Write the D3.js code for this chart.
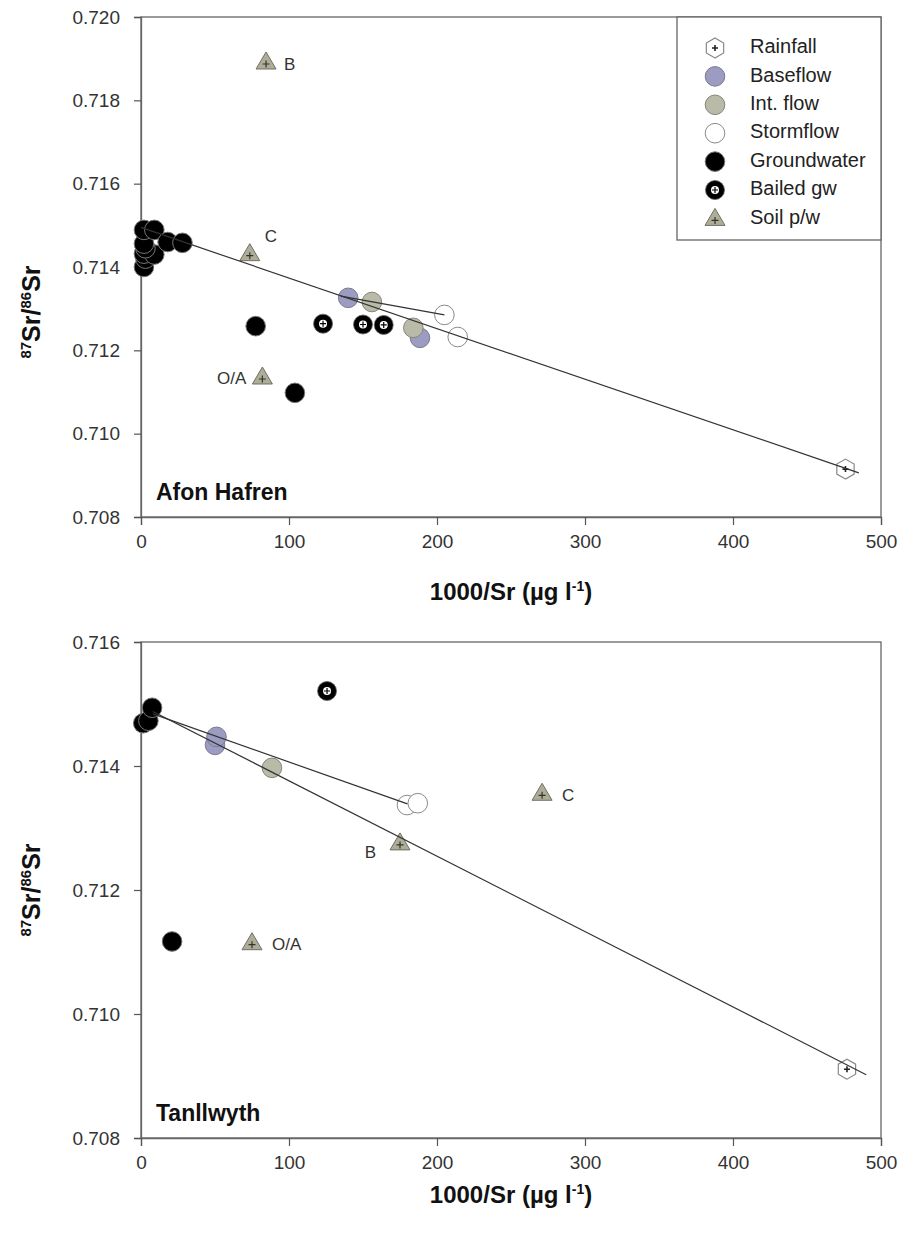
<!DOCTYPE html>
<html>
<head>
<meta charset="utf-8">
<script src="https://cdn.jsdelivr.net/npm/d3@7"></script>
<style>
  html, body { margin: 0; padding: 0; background: #fff; }
  svg { display: block; }
  text { font-family: "Liberation Sans", Arial, sans-serif; }
</style>
</head>
<body>
<script>
// ---- Axis ticks --------------------------------------------------------
const xTicks = [0, 100, 200, 300, 400, 500];
const yTicksHafren = [0.708, 0.710, 0.712, 0.714, 0.716, 0.718, 0.720];
const yTicksTanllwyth = [0.708, 0.710, 0.712, 0.714, 0.716];

// ---- Legend -------------------------------------------------------------
const legendKeys = ["rain", "base", "inter", "storm", "gw", "bailed", "soil"];
const legendLabels = ["Rainfall", "Baseflow", "Int. flow", "Stormflow", "Groundwater", "Bailed gw", "Soil p/w"];

// ---- Afon Hafren: [1000/Sr, 87Sr/86Sr] ---------------------------------
const hafRainfall = [[476, 0.70915]];
const hafBaseflow = [[140, 0.71326], [188.5, 0.71230]];
const hafIntflow = [[156, 0.71316], [184, 0.71254]];
const hafStormflow = [[205, 0.71285], [214, 0.71232]];
const hafGroundwater = [[2, 0.71400], [3, 0.71420], [2, 0.71432], [9, 0.71430], [3, 0.71445],
  [2, 0.71456], [2, 0.71489], [9, 0.71489], [18, 0.71460], [28, 0.71458],
  [77.5, 0.71258], [104, 0.71098]];
const hafBailed = [[123, 0.71264], [150, 0.71262], [164, 0.71261]];
const hafSoil = [[84.5, 0.71892], [73.5, 0.71432], [82, 0.71136]];
const hafSoilNames = ["B", "C", "O/A"];
// mixing lines
const hafLineRain = [[0, 0.71495], [485, 0.70906]];
const hafLineStorm = [[135, 0.71330], [205, 0.71285]];

// ---- Tanllwyth ---------------------------------------------------------
const tanRainfall = [[477, 0.70911]];
const tanBaseflow = [[50, 0.71434], [51, 0.71447]];
const tanIntflow = [[88.5, 0.71397]];
const tanStormflow = [[179.7, 0.71337], [187, 0.71340]];
const tanGroundwater = [[1.5, 0.71469], [5, 0.71473], [7.5, 0.71494], [21, 0.71117]];
const tanBailed = [[125.7, 0.71521]];
const tanSoil = [[271, 0.71356], [175, 0.71276], [75, 0.71115]];
const tanSoilNames = ["C", "B", "O/A"];
const tanLineRain = [[8, 0.71488], [490, 0.70902]];
const tanLineStorm = [[8, 0.71484], [180, 0.71339]];

// ---- Styles ------------------------------------------------------------
const W = 904, H = 1234;
const svg = d3.select("body").append("svg").attr("width", W).attr("height", H);

const markerStyle = {
  base:  { fill: "#9c9cc2", stroke: "#7a7a90" },
  inter: { fill: "#babaa8", stroke: "#85857a" },
  storm: { fill: "#ffffff", stroke: "#8a8a8a" },
  gw:    { fill: "#000000", stroke: "#777777" }
};

function drawMarker(g, kind, cx, cy) {
  const m = g.append("g").attr("transform", `translate(${cx},${cy})`);
  if (kind === "rain") {
    const r = 10;
    const pts = d3.range(6).map(i => {
      const a = Math.PI / 2 + i * Math.PI / 3;
      return [r * Math.cos(a), r * Math.sin(a)];
    });
    m.append("path").attr("d", "M" + pts.join("L") + "Z")
      .attr("fill", "#fff").attr("stroke", "#888").attr("stroke-width", 1.2);
    m.append("path").attr("d", "M-3,0H3M0,-3V3").attr("stroke", "#222").attr("stroke-width", 1.6);
  } else if (kind === "bailed") {
    m.append("circle").attr("r", 9.5).attr("fill", "#000").attr("stroke", "#666").attr("stroke-width", 0.8);
    m.append("circle").attr("r", 4).attr("fill", "#fff");
    m.append("path").attr("d", "M-3,0H3M0,-3V3").attr("stroke", "#000").attr("stroke-width", 1.2);
  } else if (kind === "soil") {
    m.append("path").attr("d", "M0,-10L10,7L-10,7Z")
      .attr("fill", "#aeae98").attr("stroke", "#6f6f66").attr("stroke-width", 1);
    m.append("path").attr("d", "M-3.5,2H3.5M0,-1.5V5.5").attr("stroke", "#333").attr("stroke-width", 1.2);
  } else {
    const s = markerStyle[kind];
    m.append("circle").attr("r", 9.8).attr("fill", s.fill)
      .attr("stroke", s.stroke).attr("stroke-width", 1);
  }
}

function drawPanel(opt) {
  const x = d3.scaleLinear().domain([0, 500]).range([141, 881]);
  const y = d3.scaleLinear().domain(opt.yDomain).range([opt.bottom, opt.top]);
  const g = svg.append("g");

  // frame
  g.append("rect").attr("x", x(0)).attr("y", opt.top)
    .attr("width", x(500) - x(0)).attr("height", opt.bottom - opt.top)
    .attr("fill", "none").attr("stroke", "#666").attr("stroke-width", 1.3);

  const yAxis = d3.axisLeft(y).tickValues(opt.yTicks).tickFormat(d3.format(".3f"))
    .tickSize(7).tickPadding(14);
  const xAxis = d3.axisBottom(x).tickValues(xTicks).tickFormat(d3.format("d"))
    .tickSize(8).tickPadding(10);

  const ya = g.append("g").attr("transform", `translate(${x(0)},0)`).call(yAxis);
  const xa = g.append("g").attr("transform", `translate(0,${opt.bottom})`).call(xAxis);
  [ya, xa].forEach(a => {
    a.select(".domain").attr("stroke", "#666").attr("stroke-width", 1.3);
    a.selectAll(".tick line").attr("stroke", "#555").attr("stroke-width", 1.2);
    a.selectAll(".tick text").attr("fill", "#333").style("font-size", "19px")
      .style("font-family", "'Liberation Sans', Arial, sans-serif");
  });

  // markers
  const groups = [
    ["gw", opt.gw], ["bailed", opt.bailed], ["base", opt.base], ["inter", opt.inter],
    ["storm", opt.storm], ["rain", opt.rain], ["soil", opt.soil]
  ];
  const mg = g.append("g");
  groups.forEach(([kind, arr]) => arr.forEach(d => drawMarker(mg, kind, x(d[0]), y(d[1]))));

  // mixing lines
  const line = d3.line().x(d => x(d[0])).y(d => y(d[1]));
  [opt.lineRain, opt.lineStorm].forEach(l => {
    g.append("path").attr("d", line(l)).attr("fill", "none")
      .attr("stroke", "#333").attr("stroke-width", 1.2);
  });

  // soil horizon labels
  opt.soil.forEach((d, i) => {
    const off = opt.soilOffsets[i];
    g.append("text").attr("x", x(d[0]) + off[0]).attr("y", y(d[1]) + off[1])
      .attr("text-anchor", off[2]).attr("dominant-baseline", "middle")
      .attr("fill", "#333").style("font-size", "17px").text(opt.soilNames[i]);
  });

  // site name
  g.append("text").attr("x", 156).attr("y", opt.bottom - 17)
    .attr("fill", "#111").style("font-size", "23px").style("font-weight", "bold")
    .text(opt.name);

  // axis titles
  g.append("text").attr("x", (x(0) + x(500)) / 2).attr("y", opt.bottom + opt.xTitleOffset)
    .attr("text-anchor", "middle").attr("fill", "#111")
    .style("font-size", "24px").style("font-weight", "bold")
    .call(t => {
      t.append("tspan").text("1000/Sr (µg l");
      t.append("tspan").attr("dy", -9).style("font-size", "14px").text("-1");
      t.append("tspan").attr("dy", 9).text(")");
    });

  g.append("text").attr("transform", `translate(40,${opt.yTitleY}) rotate(-90)`)
    .attr("text-anchor", "middle").attr("fill", "#111")
    .style("font-size", "25px").style("font-weight", "bold")
    .call(t => {
      t.append("tspan").attr("dy", -9).style("font-size", "15px").text("87");
      t.append("tspan").attr("dy", 9).text("Sr/");
      t.append("tspan").attr("dy", -9).style("font-size", "15px").text("86");
      t.append("tspan").attr("dy", 9).text("Sr");
    });

  return { x, y, g };
}

const p1 = drawPanel({
  name: "Afon Hafren", top: 17, bottom: 517, yDomain: [0.708, 0.720], yTicks: yTicksHafren,
  rain: hafRainfall, base: hafBaseflow, inter: hafIntflow, storm: hafStormflow,
  gw: hafGroundwater, bailed: hafBailed, soil: hafSoil, soilNames: hafSoilNames,
  soilOffsets: [[18, 4, "start"], [15, -16, "start"], [-16, 3, "end"]],
  lineRain: hafLineRain, lineStorm: hafLineStorm, yTitleY: 312, xTitleOffset: 83
});

const p2 = drawPanel({
  name: "Tanllwyth", top: 642, bottom: 1138, yDomain: [0.708, 0.716], yTicks: yTicksTanllwyth,
  rain: tanRainfall, base: tanBaseflow, inter: tanIntflow, storm: tanStormflow,
  gw: tanGroundwater, bailed: tanBailed, soil: tanSoil, soilNames: tanSoilNames,
  soilOffsets: [[20, 3, "start"], [-24, 11, "end"], [20, 3, "start"]],
  lineRain: tanLineRain, lineStorm: tanLineStorm, yTitleY: 890, xTitleOffset: 65
});

// ---- Legend box --------------------------------------------------------
const lg = svg.append("g");
lg.append("rect").attr("x", 677).attr("y", 17).attr("width", 204).attr("height", 223)
  .attr("fill", "#fff").attr("stroke", "#666").attr("stroke-width", 1.3);
legendKeys.forEach((k, i) => {
  const cy = 48 + i * 28.4;
  drawMarker(lg, k, 715, cy);
  lg.append("text").attr("x", 750).attr("y", cy).attr("dominant-baseline", "middle")
    .attr("fill", "#222").style("font-size", "20px").text(legendLabels[i]);
});
</script>
</body>
</html>
